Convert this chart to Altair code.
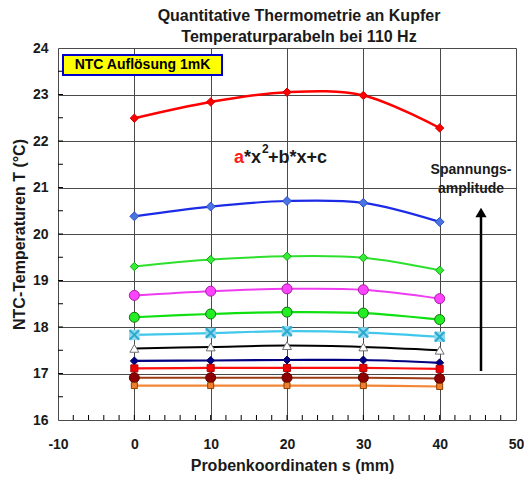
import altair as alt
import pandas as pd

# ---------------- data ----------------
x_pos = [0, 10, 20, 30, 40]

t_red_diamond = [22.49, 22.84, 23.05, 22.98, 22.28]
t_blue_diamond = [20.38, 20.59, 20.71, 20.67, 20.26]
t_green_diamond = [19.30, 19.45, 19.52, 19.49, 19.22]
t_magenta_circle = [18.68, 18.77, 18.82, 18.80, 18.61]
t_green_circle = [18.21, 18.28, 18.32, 18.30, 18.16]
t_cyan_cross = [17.83, 17.87, 17.91, 17.88, 17.79]
t_black_triangle = [17.54, 17.57, 17.60, 17.57, 17.50]
t_navy_diamond = [17.27, 17.28, 17.29, 17.29, 17.23]
t_red_square = [17.11, 17.12, 17.12, 17.12, 17.10]
t_darkred_circle = [16.91, 16.91, 16.91, 16.91, 16.89]
t_orange_square = [16.74, 16.74, 16.74, 16.74, 16.72]

x_ticks = list(range(-8, 50, 2))
y_ticks = [16.5, 17, 17.5, 18, 18.5, 19, 19.5, 20, 20.5, 21, 21.5, 22, 22.5, 23, 23.5]

title_line_1 = ["Quantitative Thermometrie an Kupfer"]
title_line_2 = ["Temperaturparabeln bei 110 Hz"]
box_label = ["NTC Auflösung 1mK"]
formula_a = ["a"]
formula_x = ["*x"]
formula_sup = ["2"]
formula_rest = ["+b*x+c"]
arrow_label_1 = ["Spannungs-"]
arrow_label_2 = ["amplitude"]

# ---------------- styles ----------------
X_SHAPE = "M-1,-1L1,1M1,-1L-1,1"
styles = [
    # values, line colour, line width, shape, fill, stroke, size
    (t_red_diamond, "#FF0000", 2.5, "diamond", "#FF0000", "#CC0000", 70),
    (t_blue_diamond, "#1C2BE6", 2.2, "diamond", "#4A74E0", "#2F4FC8", 80),
    (t_green_diamond, "#2EE02E", 2.0, "diamond", "#36EE36", "#12A012", 70),
    (t_magenta_circle, "#F03CF0", 2.0, "circle", "#FF44FF", "#A020A0", 100),
    (t_green_circle, "#10E010", 2.2, "circle", "#22EE22", "#107010", 100),
    (t_cyan_cross, "#40C8EC", 2.2, "square", "#8CD8EC", "#8CD8EC", 90),
    (t_black_triangle, "#000000", 2.0, "triangle-up", "#FFFFFF", "#707070", 80),
    (t_navy_diamond, "#000080", 2.2, "diamond", "#000080", "#000060", 64),
    (t_red_square, "#FF1010", 2.2, "square", "#EE0000", "#B00000", 50),
    (t_darkred_circle, "#A03C14", 2.0, "circle", "#8B0000", "#600000", 100),
    (t_orange_square, "#F38535", 2.2, "square", "#F08030", "#8B4000", 36),
]

FONT = "Liberation Sans"
W, H = 458, 372

xs = alt.Scale(domain=[-10, 50], nice=False, zero=False)
ys = alt.Scale(domain=[16, 24], nice=False, zero=False)

x_axis = alt.Axis(
    values=[-10, 0, 10, 20, 30, 40, 50], grid=True, gridColor="#4a4a4a", gridWidth=1,
    ticks=False, domain=False, labelFont=FONT, labelFontSize=14, labelFontWeight="bold",
    labelColor="#1a1a1a", labelPadding=17, labelFlush=False, labelExpr="'' + datum.value",
    title="Probenkoordinaten s (mm)", titleFont=FONT, titleFontSize=16, titleFontWeight="bold",
    titleColor="#1a1a1a", titlePadding=6, titleX=234,
)
y_axis = alt.Axis(
    values=[16, 17, 18, 19, 20, 21, 22, 23, 24], grid=True, gridColor="#4a4a4a", gridWidth=1,
    ticks=False, domain=False, labelFont=FONT, labelFontSize=14, labelFontWeight="bold",
    labelColor="#1a1a1a", labelPadding=10, labelFlush=False,
    title="NTC-Temperaturen T (°C)", titleFont=FONT, titleFontSize=16, titleFontWeight="bold",
    titleColor="#1a1a1a", titlePadding=5,
)


def X():
    return alt.X("x:Q", scale=xs, axis=x_axis)


def Y():
    return alt.Y("y:Q", scale=ys, axis=y_axis)


layers = []

# inward minor ticks
layers.append(
    alt.Chart(pd.DataFrame({"x": x_ticks})).mark_rule(color="#000000", strokeWidth=1)
    .encode(x=alt.X("x:Q", scale=xs, axis=x_axis), y=alt.value(H), y2=alt.value(H - 5))
)
layers.append(
    alt.Chart(pd.DataFrame({"y": y_ticks})).mark_rule(color="#000000", strokeWidth=1)
    .encode(y=alt.Y("y:Q", scale=ys, axis=y_axis), x=alt.value(0), x2=alt.value(5))
)

for vals, lc, lw, shape, fill, stroke, size in styles:
    df = pd.DataFrame({"x": x_pos, "y": vals})
    layers.append(
        alt.Chart(df).mark_line(color=lc, strokeWidth=lw, interpolate="catmull-rom")
        .encode(x=X(), y=Y())
    )
    layers.append(
        alt.Chart(df).mark_point(shape=shape, filled=True, fill=fill, stroke=stroke,
                                 strokeWidth=1, size=size, opacity=1)
        .encode(x=X(), y=Y())
    )
    if vals is t_cyan_cross:
        layers.append(
            alt.Chart(df).mark_point(shape=X_SHAPE, filled=False, stroke="#2AA8D0",
                                     strokeWidth=2, size=90, opacity=1)
            .encode(x=X(), y=Y())
        )


def txt(lst, x, y, size, color, align="left"):
    return alt.Chart(pd.DataFrame({"t": lst})).mark_text(
        font=FONT, fontSize=size, fontWeight="bold", color=color, align=align, baseline="middle"
    ).encode(text="t:N", x=alt.value(x), y=alt.value(y))


# NTC box
layers.append(
    alt.Chart(pd.DataFrame({"t": box_label})).mark_rect(fill="#FFFF00", stroke="#0000CC", strokeWidth=2)
    .encode(x=alt.value(5), x2=alt.value(164), y=alt.value(7), y2=alt.value(27))
)
layers.append(txt(box_label, 84.5, 17, 14, "#000000", "center"))

# formula
layers.append(txt(formula_a, 176, 110, 18, "#FF1A1A"))
layers.append(txt(formula_x, 186, 110, 18, "#1a1a1a"))
layers.append(txt(formula_sup, 204, 101, 12, "#1a1a1a"))
layers.append(txt(formula_rest, 210, 110, 18, "#1a1a1a"))

# arrow annotation
layers.append(txt(arrow_label_1, 413, 122, 14, "#1a1a1a", "center"))
layers.append(txt(arrow_label_2, 413, 141, 14, "#1a1a1a", "center"))
layers.append(
    alt.Chart(pd.DataFrame({"t": arrow_label_1})).mark_rule(color="#000000", strokeWidth=2.5)
    .encode(x=alt.value(423), y=alt.value(323), y2=alt.value(166))
)
layers.append(
    alt.Chart(pd.DataFrame({"t": arrow_label_1})).mark_point(shape="triangle-up", filled=True,
                                                            fill="#000000", stroke="#000000", size=60, opacity=1)
    .encode(x=alt.value(423), y=alt.value(165))
)

# chart title (two lines)
layers.append(txt(title_line_1, 241, -32, 16, "#1a1a1a", "center"))
layers.append(txt(title_line_2, 241, -11, 16, "#1a1a1a", "center"))

chart = alt.layer(*layers).properties(
    width=W,
    height=H,
    autosize=alt.AutoSizeParams(type="none"),
    padding={"left": 50, "top": 40, "right": 8, "bottom": 54},
).configure_view(fill="#C0C0C0", stroke="#000000", strokeWidth=1.5).configure(background="#FFFFFF")

chart.save("out.html", embed_options={"renderer": "svg", "actions": False})
